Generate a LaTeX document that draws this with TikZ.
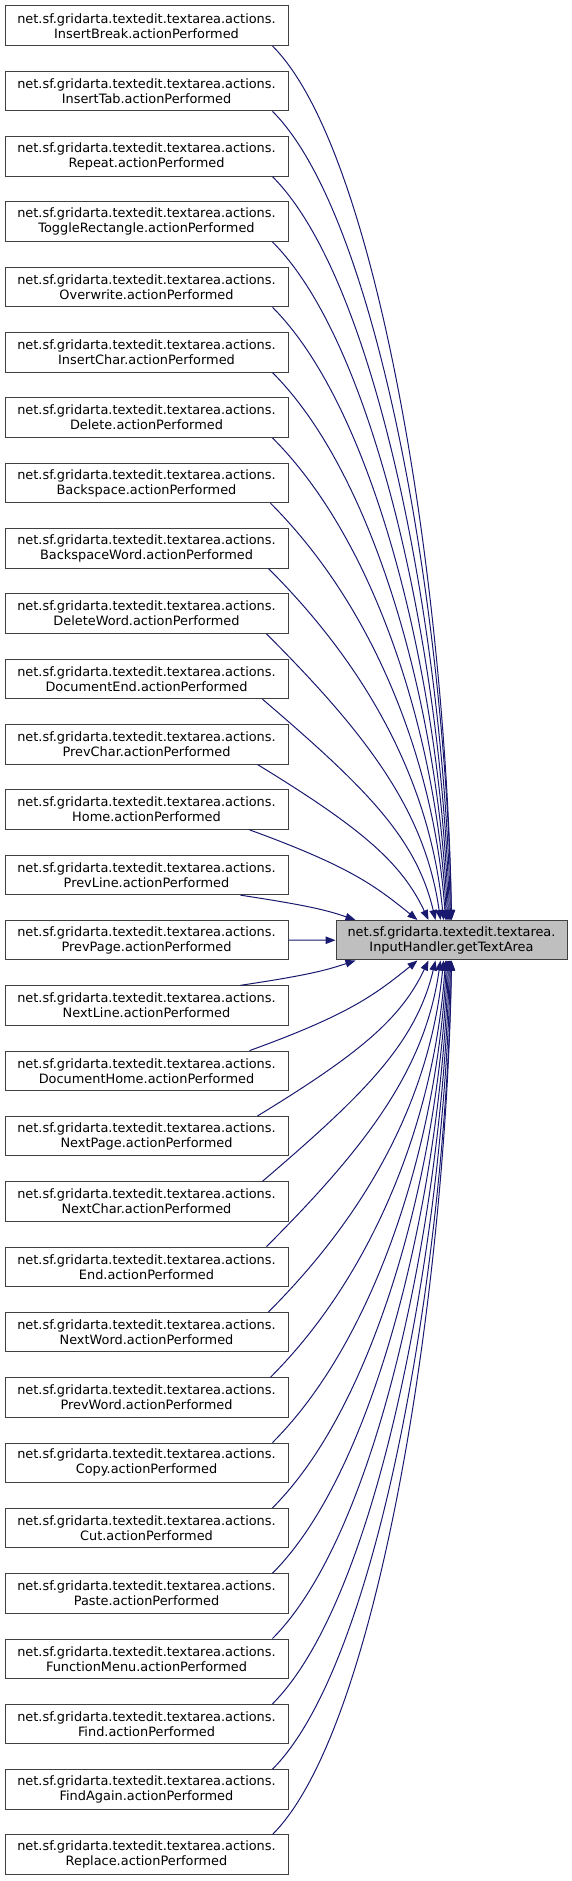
\documentclass[tikz,border=0pt]{standalone}
\usepackage{fontspec}
\setmainfont{DejaVu Sans}
\usetikzlibrary{arrows.meta,calc}
\definecolor{edgecol}{HTML}{191970}
\definecolor{boxborder}{HTML}{404040}
\definecolor{targetfill}{HTML}{BFBFBF}
\begin{document}
\begin{tikzpicture}[x=1pt,y=-1pt,
  caller/.style={draw=boxborder, line width=1pt, fill=white, minimum width=283pt,
    minimum height=39.5pt, inner sep=0pt, align=center,
    font=\fontsize{12.9}{15}\selectfont},
  callee/.style={caller, fill=targetfill, minimum width=231pt},
  edge/.style={draw=edgecol, line width=1pt, -{Triangle[length=10pt,width=7.5pt]}}]
\useasboundingbox (0,0) rectangle (572,1881);
\foreach \n [count=\i from 0] in {InsertBreak,InsertTab,Repeat,ToggleRectangle,Overwrite,InsertChar,Delete,Backspace,BackspaceWord,DeleteWord,DocumentEnd,PrevChar,Home,PrevLine,PrevPage,NextLine,DocumentHome,NextPage,NextChar,End,NextWord,PrevWord,Copy,Cut,Paste,FunctionMenu,Find,FindAgain,Replace}
  \node[caller] (b\i) at (146.5, {25.75+65.32*\i}) {net.sf.gridarta.textedit.textarea.actions.\\\n.actionPerformed};
\node[callee] (t) at (451.5, 940.23) {net.sf.gridarta.textedit.textarea.\\InputHandler.getTextArea};
\foreach \i in {0,...,13} {
  \pgfmathtruncatemacro\k{14-\i}
  \pgfmathsetmacro\xs{{0,241,250,258,263,267,269,271,273,273,273,273,273,273,273}[\k]}
  \pgfmathsetmacro\xt{{0,356,418,429,436,441,444,446,447,448,449,450,451,452,452}[\k]}
  \pgfmathsetmacro\dx{\xt-\xs}
  \pgfmathsetmacro\dy{875.5-65.32*\i}
  \pgfmathsetmacro\ax{0.6*\dx}
  \pgfmathsetmacro\ay{min(0.6*\dx,0.4*\dy)}
  \pgfmathsetmacro\bx{0.25*\dx*min(1,100/\dy)}
  \pgfmathsetmacro\by{0.37*\dy}
  \draw[edge] ($(b\i.south west)+(\xs-5,0)$) .. controls +(\ax,\ay) and +(-\bx,-\by) .. ($(t.north west)+(\xt-336,0)$);
}
\foreach \i in {15,...,28} {
  \pgfmathtruncatemacro\k{\i-14}
  \pgfmathsetmacro\xs{{0,241,250,258,263,267,269,271,273,273,273,273,273,273,273}[\k]}
  \pgfmathsetmacro\xt{{0,356,418,429,436,441,444,446,447,448,449,450,451,452,452}[\k]}
  \pgfmathsetmacro\dx{\xt-\xs}
  \pgfmathsetmacro\dy{65.32*\i-954}
  \pgfmathsetmacro\ax{0.6*\dx}
  \pgfmathsetmacro\ay{min(0.6*\dx,0.4*\dy)}
  \pgfmathsetmacro\bx{0.25*\dx*min(1,100/\dy)}
  \pgfmathsetmacro\by{0.37*\dy}
  \draw[edge] ($(b\i.north west)+(\xs-5,0)$) .. controls +(\ax,-\ay) and +(-\bx,\by) .. ($(t.south west)+(\xt-336,0)$);
}
\draw[edge] (b14.east) -- (t.west);
\end{tikzpicture}
\end{document}
